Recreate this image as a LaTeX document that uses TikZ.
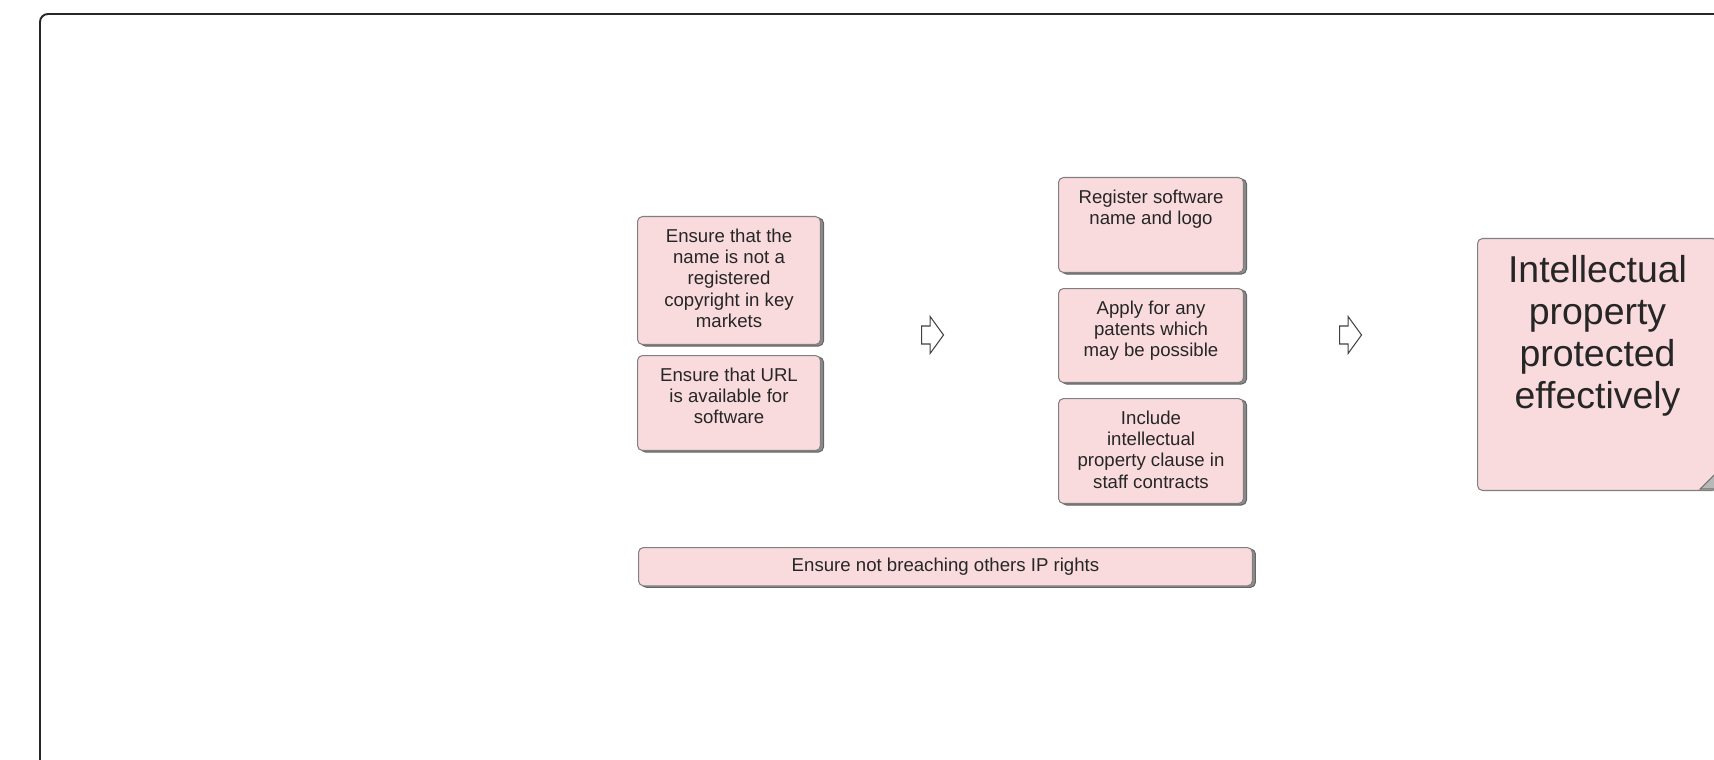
\documentclass[tikz,border=0pt]{standalone}
\usepackage{fontspec}
\setmainfont{Liberation Sans}
\usetikzlibrary{shadows,shapes.arrows}
\definecolor{cardpink}{RGB}{249,219,221}
\newcommand{\cardtext}[3]{\parbox[t][#2][t]{#1}{\centering\strut #3}}
\begin{document}
\begin{tikzpicture}[x=0.02cm,y=-0.02cm,
	plaincard/.style={anchor=north west,draw=black!50,fill=cardpink,line width=0.6pt,
	rounded corners=0.1cm,inner xsep=0.1cm,inner ysep=0.21cm,text=black!85,
	font=\fontsize{10.6}{12.2}\selectfont},
	card/.style={plaincard,
	copy shadow={shadow xshift=0.06cm,shadow yshift=-0.03cm,fill=black!45,draw=black!60}},
	flow/.style={single arrow,anchor=tail,draw=black!75,fill=white,line width=0.6pt,
	inner xsep=0pt,inner ysep=0.17cm,minimum height=0.44cm,
	single arrow head extend=0.19cm,single arrow tip angle=108}]
\useasboundingbox (0,0) rectangle (1714,760);
\draw[line width=1.1pt,black!85,rounded corners=0.16cm] (40,14) rectangle (1760,800);
\node[card] (name) at (637,216) {\cardtext{3.46cm}{2.14cm}{Ensure that the\\name is not a\\registered\\copyright in key\\markets}};
\node[card] (url) at (637,355) {\cardtext{3.46cm}{1.48cm}{Ensure that URL\\is available for\\software}};
\node[card] (reg) at (1058,177) {\cardtext{3.5cm}{1.48cm}{Register software\\name and logo}};
\node[card] (pat) at (1058,288) {\cardtext{3.5cm}{1.46cm}{Apply for any\\patents which\\may be possible}};
\node[card] (clause) at (1058,398) {\cardtext{3.5cm}{1.68cm}{Include\\intellectual\\property clause in\\staff contracts}};
\node[card,minimum width=12.28cm,minimum height=0.76cm] (rights) at (638,547) {Ensure not breaching others IP rights};
\node[plaincard,inner ysep=0.28cm,font=\fontsize{21.3}{24}\selectfont] (ip) at (1477,238) {\cardtext{4.6cm}{4.48cm}{Intellectual\\property\\protected\\effectively}};
\filldraw[fill=black!28,draw=black!55,line width=0.6pt] (1700,489) -- (1717,472) -- (1717,489) -- cycle;
\node[flow] (arrA) at (921,335) {};
\node[flow] (arrB) at (1339,335) {};
\end{tikzpicture}
\end{document}
